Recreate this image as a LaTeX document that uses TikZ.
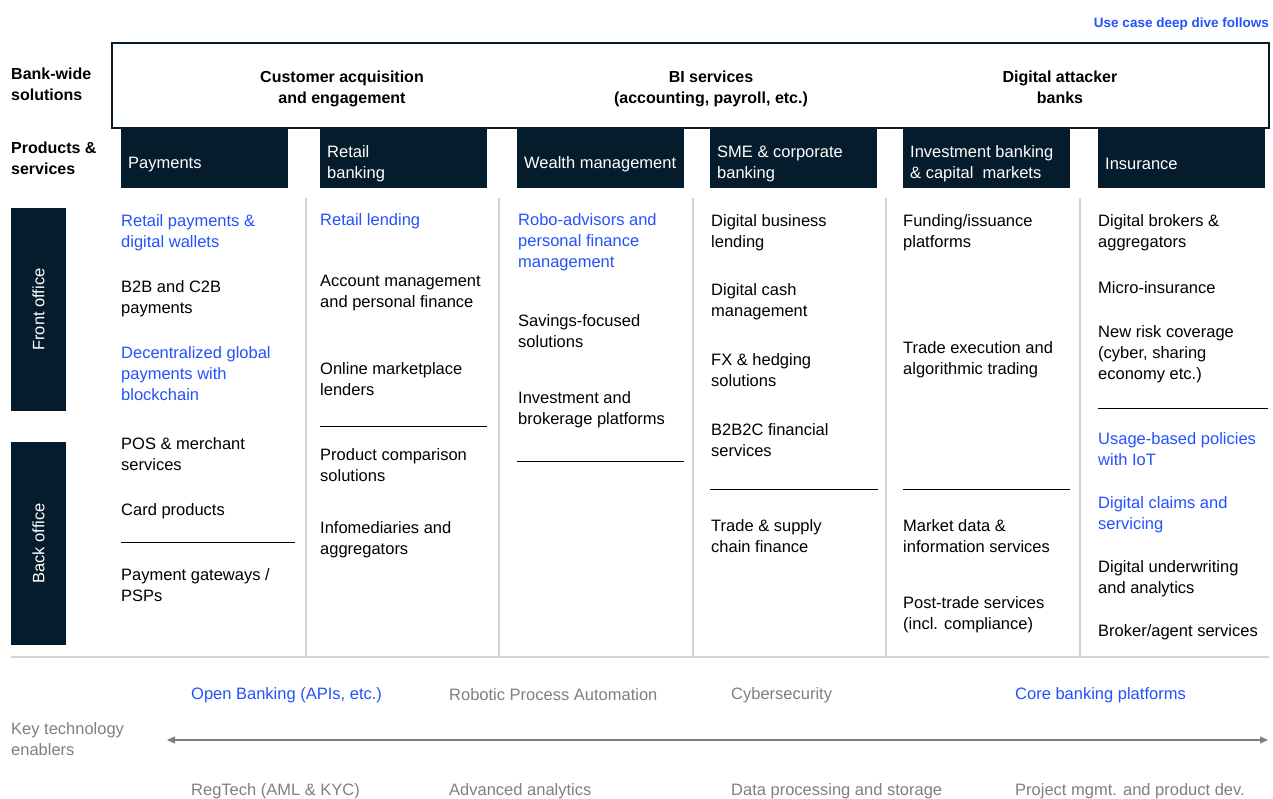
\documentclass[tikz,border=0pt]{standalone}
\usepackage{fontspec}
\setmainfont{Liberation Sans}
\usetikzlibrary{arrows.meta}
\definecolor{FigureNavy}{HTML}{051C2C}
\definecolor{FigureBlue}{HTML}{2251FF}
\definecolor{FigureGray}{HTML}{7F7F7F}
\definecolor{FigureRule}{HTML}{D4D4D4}
\begin{document}
\begin{tikzpicture}[x=1pt,y=-1pt,>={Triangle[length=8pt,width=7pt]},
  font=\fontsize{16.5}{21}\selectfont,
  item/.style={anchor=north west,align=left,inner sep=0pt},
  hot/.style={item,text=FigureBlue},
  label/.style={item,font=\bfseries\fontsize{16}{21}\selectfont},
  solution/.style={anchor=north,align=center,inner sep=0pt,
    font=\bfseries\fontsize{16}{21}\selectfont},
  sector/.style={fill=FigureNavy,anchor=north west,minimum width=167pt,
    minimum height=60pt,inner sep=0pt},
  sectortext/.style={anchor=west,align=left,text=white,inner sep=0pt},
  office/.style={fill=FigureNavy,text=white,rotate=90,minimum width=203pt,
    minimum height=55pt,inner sep=0pt},
  enabler/.style={anchor=west,inner sep=0pt,text=FigureGray}]
  \path[use as bounding box] (0,0) rectangle (1273,798);
  \node[anchor=east,inner sep=0pt,text=FigureBlue,
    font=\bfseries\fontsize{13.5}{16}\selectfont] (deepdive) at (1269,24)
    {Use case deep dive follows};
  % bank-wide solutions
  \node[draw=FigureNavy,line width=2pt,minimum width=1157pt,minimum height=85pt,
    inner sep=0pt] (bankwide) at (690.5,85.5) {};
  \node[label] (bwlabel) at (11,68) {Bank-wide\\solutions};
  \node[solution] (customer) at (342,71) {Customer acquisition\\and engagement};
  \node[solution] (biserv) at (711,71) {BI services\\(accounting, payroll, etc.)};
  \node[solution] (attacker) at (1060,71) {Digital attacker\\banks};
  % products and services
  \node[label] (pslabel) at (11,142) {Products \&\\services};
  \node[sector] (payments) at (121,128) {};
  \node[sector] (retail) at (320,128) {};
  \node[sector] (wealth) at (517,128) {};
  \node[sector] (sme) at (710,128) {};
  \node[sector] (invest) at (903,128) {};
  \node[sector] (insurance) at (1098,128) {};
  \node[sectortext] (paymentsname) at ([xshift=7pt,yshift=-6pt]payments.west) {Payments};
  \node[sectortext] (retailname) at ([xshift=7pt,yshift=-6pt]retail.west) {Retail\\banking};
  \node[sectortext] (wealthname) at ([xshift=7pt,yshift=-6pt]wealth.west) {Wealth management};
  \node[sectortext] (smename) at ([xshift=7pt,yshift=-6pt]sme.west) {SME \& corporate\\banking};
  \node[sectortext] (investname) at ([xshift=7pt,yshift=-6pt]invest.west)
    {Investment banking\\\& capital\ \ markets};
  \node[sectortext] (insurancename) at ([xshift=7pt,yshift=-6pt]insurance.west) {Insurance};
  \node[office] (front) at (38.5,309.5) {Front office};
  \node[office] (back) at (38.5,543.5) {Back office};
  % column rules
  \foreach \x in {306,499,693,886,1080}
    \draw[FigureRule,line width=1.5pt] (\x,198) -- (\x,657);
  \draw[FigureRule,line width=1.5pt] (11,657) -- (1269,657);
  \draw[line width=1pt] (121,542) -- (295,542);
  \draw[line width=1pt] (320,426) -- (487,426);
  \draw[line width=1pt] (517,461) -- (684,461);
  \draw[line width=1pt] (710,489) -- (878,489);
  \draw[line width=1pt] (903,489) -- (1070,489);
  \draw[line width=1pt] (1098,408) -- (1268,408);
  % payments
  \node[hot] (pay1) at (121,214) {Retail payments \&\\digital wallets};
  \node[item] (pay2) at (121,280) {B2B and C2B\\payments};
  \node[hot] (pay3) at (121,346) {Decentralized global\\payments with\\blockchain};
  \node[item] (pay4) at (121,437) {POS \& merchant\\services};
  \node[item] (pay5) at (121,503) {Card products};
  \node[item] (pay6) at (121,568) {Payment gateways /\\PSPs};
  % retail banking
  \node[hot] (ret1) at (320,213) {Retail lending};
  \node[item] (ret2) at (320,275) {Account management\\and personal finance};
  \node[item] (ret3) at (320,362) {Online marketplace\\lenders};
  \node[item] (ret4) at (320,448) {Product comparison\\solutions};
  \node[item] (ret5) at (320,521) {Infomediaries and\\aggregators};
  % wealth management
  \node[hot] (wea1) at (518,213) {Robo-advisors and\\personal finance\\management};
  \node[item] (wea2) at (518,314) {Savings-focused\\solutions};
  \node[item] (wea3) at (518,391) {Investment and\\brokerage platforms};
  % sme and corporate banking
  \node[item] (sme1) at (711,214) {Digital business\\lending};
  \node[item] (sme2) at (711,283) {Digital cash\\management};
  \node[item] (sme3) at (711,353) {FX \& hedging\\solutions};
  \node[item] (sme4) at (711,423) {B2B2C financial\\services};
  \node[item] (sme5) at (711,519) {Trade \& supply\\chain finance};
  % investment banking
  \node[item] (inv1) at (903,214) {Funding/issuance\\platforms};
  \node[item] (inv2) at (903,341) {Trade execution and\\algorithmic trading};
  \node[item] (inv3) at (903,519) {Market data \&\\information services};
  \node[item] (inv4) at (903,596) {Post-trade services\\(incl. compliance)};
  % insurance
  \node[item] (ins1) at (1098,214) {Digital brokers \&\\aggregators};
  \node[item] (ins2) at (1098,281) {Micro-insurance};
  \node[item] (ins3) at (1098,325) {New risk coverage\\(cyber, sharing\\economy etc.)};
  \node[hot] (ins4) at (1098,432) {Usage-based policies\\with IoT};
  \node[hot] (ins5) at (1098,496) {Digital claims and\\servicing};
  \node[item] (ins6) at (1098,560) {Digital underwriting\\and analytics};
  \node[item] (ins7) at (1098,624) {Broker/agent services};
  % key technology enablers
  \node[item,text=FigureGray] (ktlabel) at (11,722) {Key technology\\enablers};
  \coordinate (arrowL) at (167,740);
  \coordinate (arrowR) at (1268,740);
  \draw[<->,FigureGray,line width=1.3pt] (arrowL) -- (arrowR);
  \node[enabler,text=FigureBlue] (openbank) at (191,695) {Open Banking (APIs, etc.)};
  \node[enabler] (rpa) at (449,695) {Robotic Process Automation};
  \node[enabler] (cyber) at (731,695) {Cybersecurity};
  \node[enabler,text=FigureBlue] (corebank) at (1015,695) {Core banking platforms};
  \node[enabler] (regtech) at (191,791) {RegTech (AML \& KYC)};
  \node[enabler] (analytics) at (449,791) {Advanced analytics};
  \node[enabler] (dataproc) at (731,791) {Data processing and storage};
  \node[enabler] (projmgmt) at (1015,791) {Project mgmt. and product dev.};
\end{tikzpicture}
\end{document}
